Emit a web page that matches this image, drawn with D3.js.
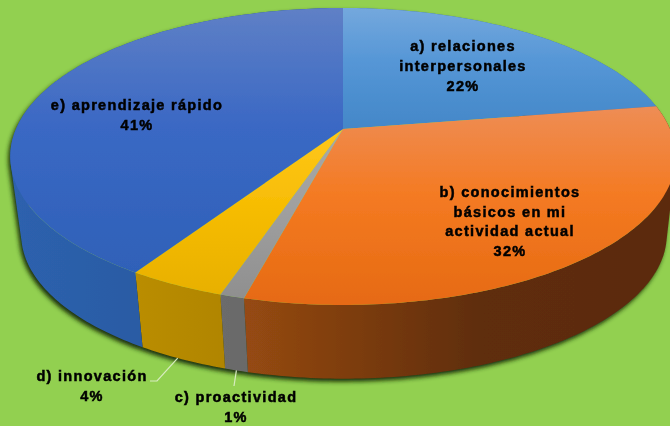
<!DOCTYPE html>
<html>
<head>
<meta charset="utf-8">
<script src="https://cdn.jsdelivr.net/npm/d3@7"></script>
<style>
  html, body { margin: 0; padding: 0; background: #92d050; overflow: hidden; }
  svg { display: block; }
  text { font-family: "Liberation Sans", Arial, sans-serif; font-weight: bold; font-size: 14.5px; letter-spacing: 1.3px; fill: #050505; stroke: #050505; stroke-width: 0.5px; }
</style>
</head>
<body>
<div id="chart"></div>
<script>
// Chart data (shares, labels show the rounded figure)
const categories = ["a) relaciones interpersonales", "b) conocimientos básicos en mi actividad actual", "c) proactividad", "d) innovación", "e) aprendizaje rápido"];
const values = [22.4, 31.6, 1, 4, 41];
const labelLines = [
    ["a) relaciones", "interpersonales", "22%"],
    ["b) conocimientos", "básicos en mi", "actividad actual", "32%"],
    ["c) proactividad", "1%"],
    ["d) innovación", "4%"],
    ["e) aprendizaje rápido", "41%"]
];

const width = 670, height = 426;
const cx = 343, cy = 129;       // where the slices meet on screen
const a = 327, b = 143.4, k = 0.185;  // tilted disc
const depth = 79, baseScale = 0.97, baseShift = 1;

// label anchor for each slice (x centre, first baseline, line step)
const labelPos = [[463, 51, 20], [510, 197, 19.7], [236, 402, 20], [92, 381, 20], [137, 110, 19.5]];

const topColors = [
    ["#74a8dd", "#5596d6", "#4387c8"],
    ["#ee8d55", "#f47a22", "#e66a12"],
    ["#a8a8a8", "#a0a0a0", "#8f8f8f"],
    ["#ffc71a", "#f7bd05", "#e8b000"],
    ["#5f80c6", "#3a68c4", "#2f61b8"]
];
const sideColors = [
    ["#3a6fa8", "#3a6fa8", "#3a6fa8"],
    ["#5b2b0c", "#5f2d0c", "#964a12"],
    ["#5f5f5f", "#666666", "#6c6c6c"],
    ["#a67c00", "#ae8300", "#ba8d00"],
    ["#244e8e", "#2a58a0", "#2d62ae"]
];
const stopOffsets = [0, 0.45, 1];

const svg = d3.select("#chart").append("svg")
    .attr("width", width)
    .attr("height", height);

const defs = svg.append("defs");
const blur = defs.append("filter").attr("id", "shadow")
    .attr("x", "-10%").attr("y", "-10%").attr("width", "120%").attr("height", "120%");
blur.append("feGaussianBlur").attr("stdDeviation", 2.2);
const soft = defs.append("filter").attr("id", "soft");
soft.append("feGaussianBlur").attr("stdDeviation", 0.45);

// angle -> point on the top face
function project(angle) {
    const u = Math.sin(angle), v = -Math.cos(angle);
    const w = 1 - k * v;
    return [a * u / w, b * v / w];
}
const topPoint = t => { const p = project(t); return [cx + p[0], cy + p[1]]; };
const basePoint = t => { const p = project(t); return [cx + baseShift + p[0] * baseScale, cy + p[1] * baseScale + depth]; };

const slices = d3.pie().sort(null).startAngle(0).endAngle(2 * Math.PI)(values);
const line = d3.line();

function sweep(s) {
    const n = Math.max(4, Math.ceil((s.endAngle - s.startAngle) * 60));
    return d3.range(n + 1).map(i => s.startAngle + (s.endAngle - s.startAngle) * i / n);
}
// wall = many small quads, all wound the same way so the folded sides stay filled
const wallPath = s => {
    const ts = sweep(s);
    return d3.pairs(ts).map(([t0, t1]) => {
        const q = [topPoint(t0), topPoint(t1), basePoint(t1), basePoint(t0)];
        if (d3.polygonArea(q) < 0) q.reverse();
        return line(q) + "Z";
    }).join("");
};
const topPath = s => line([[cx, cy]].concat(sweep(s).map(topPoint))) + "Z";

// gradients
slices.forEach((s, i) => {
    const pts = sweep(s).map(topPoint).concat([[cx, cy]]);
    const tg = defs.append("linearGradient").attr("id", "top" + i)
        .attr("gradientUnits", "userSpaceOnUse")
        .attr("x1", 0).attr("x2", 0)
        .attr("y1", d3.min(pts, d => d[1])).attr("y2", d3.max(pts, d => d[1]));
    const sg = defs.append("linearGradient").attr("id", "side" + i)
        .attr("gradientUnits", "userSpaceOnUse")
        .attr("y1", 0).attr("y2", 0)
        .attr("x1", d3.max(pts, d => d[0])).attr("x2", d3.min(pts, d => d[0]));
    stopOffsets.forEach((o, j) => {
        tg.append("stop").attr("offset", o).attr("stop-color", topColors[i][j]);
        sg.append("stop").attr("offset", o).attr("stop-color", sideColors[i][j]);
    });
});

const pie3d = svg.append("g").attr("filter", "url(#soft)");

// dark glow under the disc
pie3d.append("g").attr("filter", "url(#shadow)")
    .selectAll("path").data(slices).join("path")
    .attr("d", wallPath)
    .attr("fill", "#1c3208")
    .attr("transform", "translate(-2,3)");

pie3d.append("g").selectAll("path").data(slices).join("path")
    .attr("d", wallPath)
    .attr("fill", (d, i) => `url(#side${i})`);

pie3d.append("g").selectAll("path").data(slices).join("path")
    .attr("d", topPath)
    .attr("fill", (d, i) => `url(#top${i})`);

// leader lines
const leader = d3.line();
const leaders = svg.append("g").attr("filter", "url(#soft)");
leaders.append("path").attr("d", leader([basePoint(slices[3].startAngle + (slices[3].endAngle - slices[3].startAngle) * 0.55), [157, 381], [150, 381]]))
    .attr("fill", "none").attr("stroke", "#d8ecc0").attr("stroke-width", 1.2);
leaders.append("path").attr("d", leader([basePoint((slices[2].startAngle + slices[2].endAngle) / 2), [234, 386]]))
    .attr("fill", "none").attr("stroke", "#d8ecc0").attr("stroke-width", 1.2);

// labels
const labels = svg.append("g").attr("filter", "url(#soft)");
labelLines.forEach((lines, i) => {
    const t = labels.append("text").attr("text-anchor", "middle");
    lines.forEach((l, j) => {
        t.append("tspan")
            .attr("x", labelPos[i][0])
            .attr("y", labelPos[i][1] + j * labelPos[i][2])
            .text(l);
    });
});
</script>
</body>
</html>
